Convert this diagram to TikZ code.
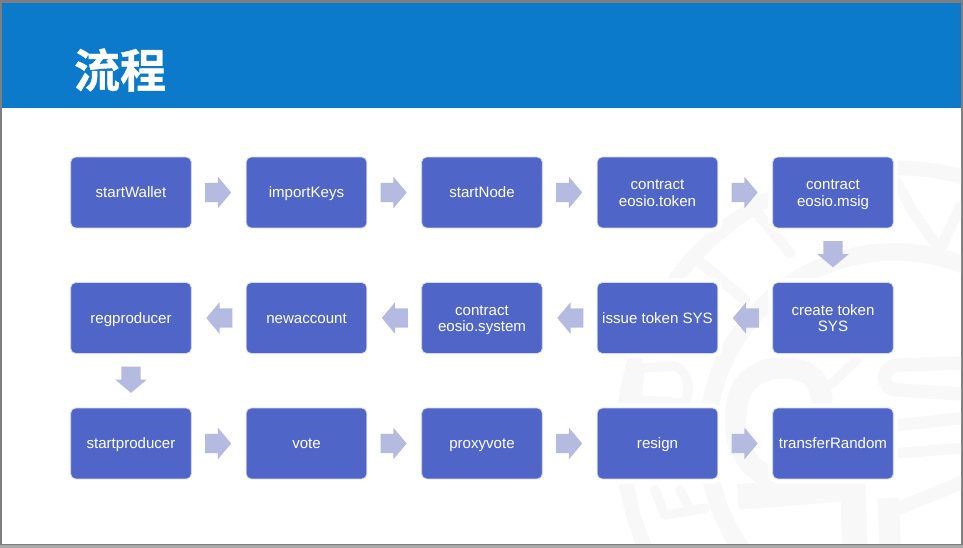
\documentclass[tikz,border=0pt]{standalone}
\usepackage{fontspec}
\setmainfont{Liberation Sans}
\newfontfamily\cjk{Noto Sans CJK SC}[BoldFont={Noto Sans CJK SC Bold},BoldFeatures={FakeBold=0.8}]
\usetikzlibrary{shapes.arrows}
\definecolor{hdr}{HTML}{0C7ACB}
\definecolor{boxc}{HTML}{4F66C8}
\definecolor{arr}{HTML}{B4BAE0}
\definecolor{wm}{HTML}{F8F8F8}
\definecolor{frm}{HTML}{7E7E7E}
\definecolor{frmb}{HTML}{A8A8A8}
\newcommand{\lso}{\rule[-.21em]{0pt}{1.14em}}
\newcommand{\lsa}{\rule{0pt}{.93em}}
\newcommand{\lsb}{\rule[-.21em]{0pt}{.93em}}
\tikzset{
  stepbox/.style={draw=white!75!boxc,line width=0.6pt,fill=boxc,rounded corners=3.8pt,minimum width=90.5pt,minimum height=53.2pt,inner sep=0pt,align=center,text=white,font=\fontsize{11.3}{12.4}\selectfont,preaction={draw=white,line width=7pt}},
  blockarrow/.style={single arrow,fill=arr,draw=none,inner ysep=7pt,inner xsep=0pt,minimum height=19.6pt,single arrow head extend=4.6pt,single arrow tip angle=100,anchor=center,midway},
  goright/.style={blockarrow,xshift=-3.5pt},
  goleft/.style={blockarrow,rotate=180,xshift=-3.5pt},
  godown/.style={blockarrow,rotate=-90,xshift=-3.75pt},
  wmline/.style={draw=wm,line width=9pt,line cap=round,line join=round}
}
\begin{document}
\begin{tikzpicture}[x=0.75pt,y=-0.75pt]
\useasboundingbox (0,0) rectangle (963,548);
\fill[frm] (0,0) rectangle (963,548);
\fill[frmb] (0,544.5) rectangle (963,548);
\fill[white] (1.5,3) rectangle (961,543.5);
\begin{scope}
\clip (1.5,108) rectangle (961,543.5);
% seal watermark
\draw[wmline,line width=11pt] (895,440) circle[radius=272];
\draw[wmline,line width=13pt] (895,440) circle[radius=188];
% arched letters
\draw[wmline,line width=8pt] (757,213) -- (790,253);
\draw[wmline,line width=8pt] (897,183) -- (913,212) -- (940,250) -- (960,207);
\draw[wmline,line width=8pt] (700,262) -- (745,300);
\draw[wmline,line width=7pt] (640,368) -- (675,366) .. controls (690,372) and (690,390) .. (685,403) -- (637,400) -- cycle;
\draw[wmline,line width=7pt] (655,490) -- (665,515) -- (705,508);
\draw[wmline,line width=7pt] (680,490) -- (690,510);
% central character
\draw[wmline,line width=16pt] (770,478) .. controls (735,460) and (733,430) .. (737,405) .. controls (740,375) and (770,362) .. (800,370) .. controls (815,375) and (820,385) .. (822,400);
\draw[wmline,line width=7pt] (830,385) -- (857,360);
\draw[wmline,line width=10pt] (963,363) -- (897,365) .. controls (880,368) and (880,388) .. (897,390) -- (963,394);
\draw[wmline,line width=9pt] (900,425) -- (963,418);
\draw[wmline,line width=8pt] (900,453) -- (963,448);
\draw[wmline,line width=19pt,line cap=butt] (738,497) -- (853,488) -- (855,550);
\draw[wmline,line width=16pt,line cap=butt] (888,498) -- (890,545);
\draw[wmline,line width=10pt] (890,512) -- (963,482);
\end{scope}
\fill[hdr] (1.5,3) rectangle (961,108);
\node[text=white,font=\cjk\bfseries\fontsize{34.5}{34.5}\selectfont,inner sep=0pt] (title) at (120,70) {流程};
\node[stepbox] (a1) at (131,192.5) {\lso startWallet};
\node[stepbox] (a2) at (306.5,192.5) {\lso importKeys};
\node[stepbox] (a3) at (482,192.5) {\lso startNode};
\node[stepbox] (a4) at (657.5,192.5) {\lsa contract\\\lsb eosio.token};
\node[stepbox] (a5) at (833,192.5) {\lsa contract\\\lsb eosio.msig};
\node[stepbox] (b5) at (833,318) {\lsa create token\\\lsb SYS};
\node[stepbox] (b4) at (657.5,318) {\lso issue token SYS};
\node[stepbox] (b3) at (482,318) {\lsa contract\\\lsb eosio.system};
\node[stepbox] (b2) at (306.5,318) {\lso newaccount};
\node[stepbox] (b1) at (131,318) {\lso regproducer};
\node[stepbox] (c1) at (131,443.5) {\lso startproducer};
\node[stepbox] (c2) at (306.5,443.5) {\lso vote};
\node[stepbox] (c3) at (482,443.5) {\lso proxyvote};
\node[stepbox] (c4) at (657.5,443.5) {\lso resign};
\node[stepbox] (c5) at (833,443.5) {\lso transferRandom};
\path (a1) -- node[goright] (h1) {} (a2);
\path (a2) -- node[goright] (h2) {} (a3);
\path (a3) -- node[goright] (h3) {} (a4);
\path (a4) -- node[goright] (h4) {} (a5);
\path (a5) -- node[godown] (v1) {} (b5);
\path (b5) -- node[goleft] (l1) {} (b4);
\path (b4) -- node[goleft] (l2) {} (b3);
\path (b3) -- node[goleft] (l3) {} (b2);
\path (b2) -- node[goleft] (l4) {} (b1);
\path (b1) -- node[godown] (v2) {} (c1);
\path (c1) -- node[goright] (k1) {} (c2);
\path (c2) -- node[goright] (k2) {} (c3);
\path (c3) -- node[goright] (k3) {} (c4);
\path (c4) -- node[goright] (k4) {} (c5);
\end{tikzpicture}
\end{document}
